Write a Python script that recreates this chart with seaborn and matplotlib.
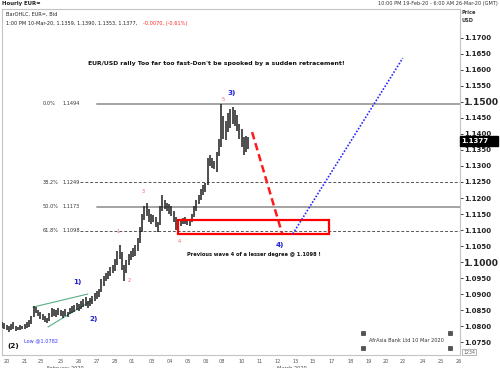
import numpy as np
import pandas as pd
import matplotlib
matplotlib.use('Agg')
import matplotlib.pyplot as plt
import seaborn as sns
from matplotlib.patches import Rectangle

# trading hours counted from 10PM 19-Feb-20 (weekends left out), one bar per 3 hours
bar_hour = list(range(0, 330, 3))
bar_low = [1.0795, 1.0790, 1.0786, 1.0782, 1.0788, 1.0790, 1.0784, 1.0786, 1.0789, 1.0790,
           1.0792, 1.0794, 1.0798, 1.0806, 1.0828, 1.0840, 1.0830, 1.0822, 1.0818, 1.0812,
           1.0809, 1.0815, 1.0828, 1.0832, 1.0828, 1.0834, 1.0830, 1.0826, 1.0832, 1.0828,
           1.0836, 1.0842, 1.0845, 1.0850, 1.0848, 1.0852, 1.0858, 1.0862, 1.0855, 1.0862,
           1.0870, 1.0878, 1.0885, 1.0892, 1.0905, 1.0925, 1.0940, 1.0948, 1.0955, 1.0965,
           1.0972, 1.0990, 1.1010, 1.0975, 1.0940, 1.0965, 1.0990, 1.1005, 1.1015, 1.1020,
           1.1035, 1.1060, 1.1095, 1.1130, 1.1145, 1.1125, 1.1120, 1.1125, 1.1110, 1.1094,
           1.1115, 1.1160, 1.1165, 1.1158, 1.1150, 1.1145, 1.1125, 1.1100, 1.1090, 1.1112,
           1.1118, 1.1120, 1.1116, 1.1112, 1.1125, 1.1140, 1.1160, 1.1180, 1.1195, 1.1210,
           1.1220, 1.1240, 1.1300, 1.1295, 1.1290, 1.1280, 1.1330, 1.1360, 1.1385, 1.1380,
           1.1405, 1.1420, 1.1430, 1.1425, 1.1410, 1.1385, 1.1360, 1.1334, 1.1345, 1.1353]
bar_high = [1.0812, 1.0808, 1.0803, 1.0800, 1.0806, 1.0811, 1.0800, 1.0798, 1.0802, 1.0799,
            1.0805, 1.0812, 1.0818, 1.0832, 1.0862, 1.0858, 1.0850, 1.0845, 1.0838, 1.0830,
            1.0826, 1.0840, 1.0856, 1.0852, 1.0850, 1.0855, 1.0849, 1.0846, 1.0852, 1.0845,
            1.0856, 1.0862, 1.0866, 1.0872, 1.0868, 1.0878, 1.0884, 1.0890, 1.0878, 1.0886,
            1.0895, 1.0902, 1.0908, 1.0915, 1.0946, 1.0955, 1.0965, 1.0972, 1.0985, 1.0992,
            1.1010, 1.1035, 1.1053, 1.1030, 1.0990, 1.1005, 1.1025, 1.1035, 1.1045, 1.1052,
            1.1075, 1.1110, 1.1150, 1.1175, 1.1184, 1.1165, 1.1150, 1.1148, 1.1140, 1.1125,
            1.1175, 1.1210, 1.1195, 1.1185, 1.1180, 1.1175, 1.1160, 1.1140, 1.1125, 1.1135,
            1.1138, 1.1140, 1.1135, 1.1132, 1.1150, 1.1175, 1.1195, 1.1210, 1.1228, 1.1240,
            1.1248, 1.1325, 1.1335, 1.1325, 1.1315, 1.1345, 1.1385, 1.1494, 1.1455, 1.1440,
            1.1465, 1.1478, 1.1484, 1.1475, 1.1460, 1.1430, 1.1415, 1.1390, 1.1395, 1.1390]

# x axis day labels (start of each trading day, in trading hours)
day_hour = [2, 26, 48, 74, 98, 122, 146, 168, 194, 218, 242, 266, 288, 314, 338, 362,
            386, 408, 434, 458, 482, 506, 528, 554, 578, 602]
day_label = ['20', '21', '23', '25', '26', '27', '28', '01', '03', '04', '05', '06', '08',
             '10', '11', '12', '13', '15', '17', '18', '19', '20', '22', '24', '25', '26']
month_hour = [84, 385]
month_label = ['February 2020', 'March 2020']

price_ticks = [1.0750, 1.0800, 1.0850, 1.0900, 1.0950, 1.1000, 1.1050, 1.1100, 1.1150,
               1.1200, 1.1250, 1.1300, 1.1350, 1.1400, 1.1450, 1.1500, 1.1550, 1.1600,
               1.1650, 1.1700]
last_price = 1.1377

# fibonacci retracement levels
fib_pct = ['0.0%', '38.2%', '50.0%', '61.8%']
fib_price = [1.1494, 1.1249, 1.1173, 1.1098]
fib_dashed = [False, True, False, True]

# wave 4 target zone and projected path
zone_hour = [234, 434]
zone_price = [1.1088, 1.1131]
down_hour = [332, 372]
down_price = [1.1406, 1.1088]
up_hour = [386, 532]
up_price = [1.1088, 1.1637]

# leading diagonal (wave 1/2)
wedge_top_hour = [41, 114]
wedge_top_price = [1.0859, 1.0900]
wedge_bot_hour = [61, 120]
wedge_bot_price = [1.0797, 1.0881]

# wave counts
minor_label = ['1', '2', '3', '4', '5']
minor_hour = [154, 169, 188, 235, 293]
minor_price = [1.1094, 1.0941, 1.1219, 1.1063, 1.1509]
major_label = ['1)', '2)', '3)', '4)']
major_hour = [100, 121, 305, 369]
major_price = [1.0938, 1.0822, 1.1528, 1.1053]

sns.set_style('white')
plt.rcParams['font.family'] = ['DejaVu Sans']

W, H = 500, 368
fig = plt.figure(figsize=(5, 3.68), dpi=100)
ax = fig.add_axes([2 / W, 13 / H, 458 / W, 346 / H])

def fx(px):
    return px / W

def fy(py):
    return 1 - py / H

bars = pd.DataFrame({'hour': bar_hour, 'low': bar_low, 'high': bar_high})
ax.vlines(bars['hour'], bars['low'], bars['high'], color='#1e1e1e', lw=1.1, zorder=4)

# fib lines
for pct, p, dashed in zip(fib_pct, fib_price, fib_dashed):
    if dashed:
        ax.plot([104, 608], [p, p], color='#555555', lw=0.7, dashes=(3, 2), zorder=2)
    else:
        ax.plot([126, 608], [p, p], color='#a3a3a3', lw=1.4, zorder=2)
    ax.text(54, p, pct, fontsize=3.6, color='#333333', va='center', ha='left')
    ax.text(80, p, '%.4f' % p, fontsize=3.6, color='#333333', va='center', ha='left')

ax.add_patch(Rectangle((zone_hour[0], zone_price[0]), zone_hour[1] - zone_hour[0],
                       zone_price[1] - zone_price[0], fill=False, ec='#ff0000', lw=1.6, zorder=5))
ax.plot(down_hour, down_price, color='#ff1a1a', lw=1.8, dashes=(3, 1.6), zorder=5)
ax.plot(up_hour, up_price, color='#2a2aff', lw=1.2, dashes=(1, 1), zorder=5)

sns.lineplot(x=wedge_top_hour, y=wedge_top_price, ax=ax, color='#5aae86', lw=0.8, zorder=3)
sns.lineplot(x=wedge_bot_hour, y=wedge_bot_price, ax=ax, color='#5aae86', lw=0.8, zorder=3)

for lab, h, p in zip(minor_label, minor_hour, minor_price):
    ax.text(h, p, lab, fontsize=3.6, color='#f06060', ha='center', va='center', zorder=6)
for lab, h, p in zip(major_label, major_hour, major_price):
    ax.text(h, p, lab, fontsize=5.2, color='#2323d6', fontweight='bold',
            ha='center', va='center', zorder=6)

ax.text(15, 1.0738, '(2)', fontsize=5.2, fontweight='bold', color='#111111', ha='center', va='center')
ax.text(52, 1.0753, 'Low @1.0782', fontsize=3.6, color='#3a3aff', ha='center', va='center')
ax.text(335, 1.1025, 'Previous wave 4 of a lesser degree @ 1.1098 !', fontsize=3.7,
        fontweight='bold', color='#111111', ha='center', va='center')
ax.text(284, 1.1619, "EUR/USD rally Too far too fast-Don't be spooked by a sudden retracement!",
        fontsize=4.4, fontweight='bold', color='#111111', ha='center', va='center')

# selection handles around the watermark text
hx = [479, 479, 595, 595]
hy = [1.0778, 1.0731, 1.0778, 1.0731]
ax.scatter(hx, hy, marker='s', s=5, c='#555555', edgecolors='#222222', linewidths=0.4, zorder=6)
ax.text(537, 1.0756, 'AfrAsia Bank Ltd 10 Mar 2020', fontsize=3.6, color='#333333',
        ha='center', va='center')

ax.set_xlim(0, 608)
ax.set_ylim(1.07094, 1.17906)

ax.set_xticks(day_hour)
ax.set_xticklabels(day_label, ha='left')
ax.tick_params(axis='x', length=0, pad=3, labelsize=3.6, colors='#555555')

ax.yaxis.tick_right()
ax.set_yticks(price_ticks)
ax.set_yticklabels(['%.4f' % v for v in price_ticks])
ax.tick_params(axis='y', direction='out', length=2, width=0.6, pad=1, labelsize=5,
               colors='#222222')
for lbl, v in zip(ax.get_yticklabels(), price_ticks):
    lbl.set_fontweight('bold')
    if abs(v - 1.15) < 1e-6 or abs(v - 1.10) < 1e-6:
        lbl.set_fontsize(6.6)

# month names sit under the day labels, partly cut by the bottom edge as in the original
for hm, lab in zip(month_hour, month_label):
    ax.text(hm, -0.031, lab, transform=ax.get_xaxis_transform(), fontsize=3.6,
            color='#444444', ha='center', va='top', clip_on=False)

for sp in ax.spines.values():
    sp.set_color('#c4c4c4')
    sp.set_linewidth(0.8)

# current price tag
ax.add_patch(Rectangle((1.0, last_price - 0.0016), 0.083, 0.0032, transform=ax.get_yaxis_transform(),
                       fc='black', ec='black', clip_on=False, zorder=10))
ax.text(1.003, last_price, '%.4f' % last_price, transform=ax.get_yaxis_transform(), color='white',
        fontsize=5, fontweight='bold', ha='left', va='center', zorder=11, clip_on=False)

# header
fig.text(fx(2), fy(4), 'Hourly EUR=', fontsize=3.9, fontweight='bold', color='#222222', va='center')
fig.text(fx(498), fy(4), '10:00 PM 19-Feb-20 - 6:00 AM 26-Mar-20 (GMT)', fontsize=3.6,
         color='#333333', ha='right', va='center')
fig.text(fx(6), fy(14), 'BarOHLC, EUR=, Bid', fontsize=3.6, color='#222222', va='center')
fig.text(fx(6), fy(23), '1:00 PM 10-Mar-20, 1.1359, 1.1390, 1.1353, 1.1377,', fontsize=3.6,
         color='#222222', va='center')
fig.text(fx(143), fy(23), '-0.0070, (-0.61%)', fontsize=3.6, color='#ff2020', va='center')
fig.text(fx(462), fy(12), 'Price', fontsize=3.6, fontweight='bold', color='#333333', va='center')
fig.text(fx(462), fy(20), 'USD', fontsize=3.6, fontweight='bold', color='#333333', va='center')
fig.text(fx(463), fy(352), '1234', fontsize=3.4, color='#666666', va='center',
         bbox=dict(boxstyle='square,pad=0.15', fc='white', ec='#999999', lw=0.5))

fig.savefig('out.png', dpi=100)
